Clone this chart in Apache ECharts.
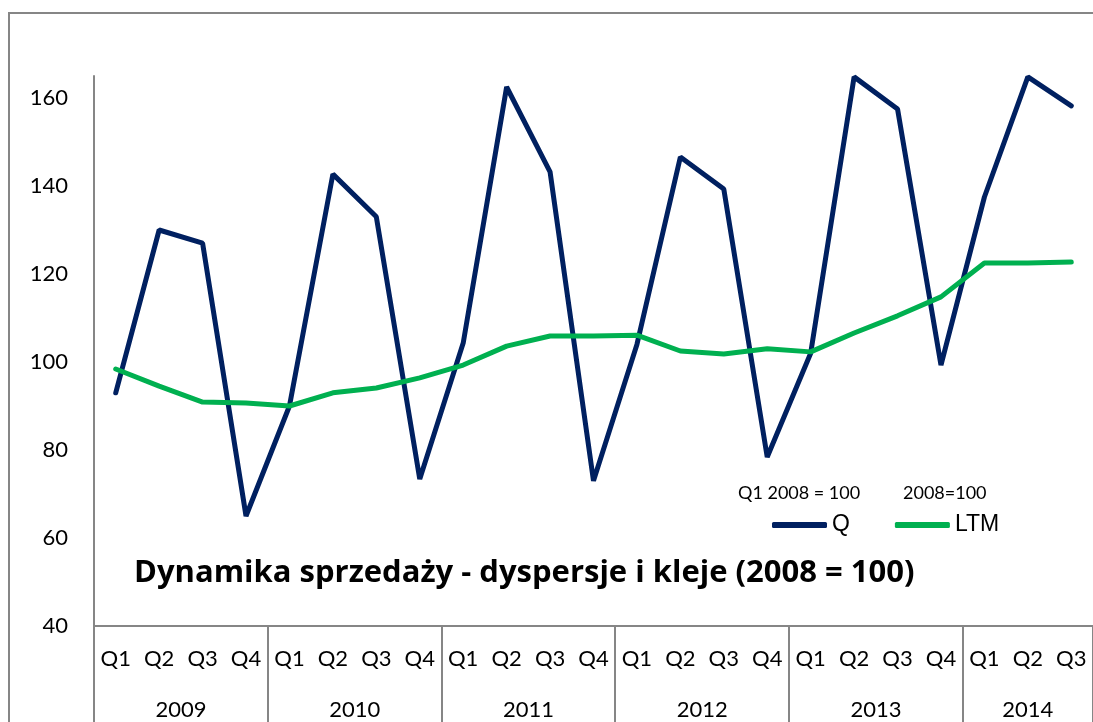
<!DOCTYPE html>
<html>
<head>
<meta charset="utf-8">
<script src="https://cdn.jsdelivr.net/npm/echarts@6/dist/echarts.min.js"></script>
<style>
  html, body { margin: 0; padding: 0; background: #fff; }
  #chart { width: 1093px; height: 722px; }
</style>
</head>
<body>
<div id="chart"></div>
<script>
// quarters and years of the two-level category axis
const quarters = ['Q1', 'Q2', 'Q3', 'Q4'];
const years = ['2009', '2010', '2011', '2012', '2013', '2014'];
const quartersPerYear = [4, 4, 4, 4, 4, 3];

// Q: quarterly index, Q1 2008 = 100
const qValues = [93, 130, 127, 65, 90, 142.7, 133, 73.4, 104.3, 162.5, 143.2, 73,
  104, 146.6, 139.3, 78.4, 102, 164.8, 157.5, 99.3, 137.5, 164.8, 158.2];
// LTM: last twelve months, 2008 = 100
const ltmValues = [98.4, 94.5, 90.9, 90.7, 90, 93, 94.1, 96.4, 99.3, 103.6, 105.9, 105.9,
  106.1, 102.5, 101.8, 103, 102.3, 106.6, 110.5, 114.8, 122.5, 122.5, 122.7];

const seriesNames = ['Q', 'LTM'];
const seriesNotes = ['Q1 2008 = 100', '2008=100'];
const chartTitle = 'Dynamika sprzedaży - dyspersje i kleje (2008 = 100)';

// build category list and year lookup
const categories = [];
const yearOfIndex = [];
const firstOfYear = [];
years.forEach(function (y, yi) {
  firstOfYear.push(categories.length);
  for (let q = 0; q < quartersPerYear[yi]; q++) {
    categories.push(quarters[q]);
    yearOfIndex.push(yi);
  }
});

const font = 'Lato';
const axisGray = '#868686';

const myChart = echarts.init(document.getElementById('chart'));

const option = {
  animation: false,
  textStyle: { fontFamily: font },
  title: [
    {
      text: chartTitle,
      left: 134, top: 558,
      padding: 0,
      textStyle: { fontFamily: 'Open Sans', fontSize: 31, fontWeight: 'bold', color: '#000' }
    },
    {
      text: seriesNotes[0],
      left: 738, top: 484,
      padding: 0,
      textStyle: { fontFamily: font, fontSize: 18, fontWeight: 'normal', color: '#000' }
    },
    {
      text: seriesNotes[1],
      left: 903, top: 484,
      padding: 0,
      textStyle: { fontFamily: font, fontSize: 18, fontWeight: 'normal', color: '#000' }
    }
  ],
  legend: {
    left: 772, top: 513,
    padding: 0,
    itemWidth: 55, itemHeight: 6,
    itemGap: 45,
    icon: 'roundRect',
    textStyle: { fontFamily: 'Liberation Sans', fontSize: 23, color: '#000', lineHeight: 24 },
    data: seriesNames
  },
  graphic: [
    {
      type: 'rect',
      shape: { x: 9, y: 13, width: 1200, height: 800 },
      style: { fill: 'none', stroke: axisGray, lineWidth: 2 },
      silent: true
    }
  ],
  grid: { left: 94, top: 76, width: 1003, height: 550 },
  xAxis: [
    {
      type: 'category',
      data: categories,
      boundaryGap: true,
      position: 'bottom',
      axisLine: { show: true, lineStyle: { color: axisGray, width: 2 } },
      axisTick: { show: false },
      axisLabel: {
        interval: 0, margin: 22,
        fontFamily: font, fontSize: 22, lineHeight: 22, color: '#000'
      },
      splitLine: { show: false }
    },
    {
      type: 'category',
      data: categories,
      boundaryGap: true,
      position: 'bottom',
      axisLine: { show: false },
      axisTick: {
        show: true,
        length: 100,
        interval: function (index) { return firstOfYear.indexOf(index) >= 0; },
        lineStyle: { color: axisGray, width: 2 }
      },
      axisLabel: {
        interval: 0, margin: 73,
        fontFamily: font, fontSize: 22, lineHeight: 22, color: '#000',
        formatter: function (value, index) {
          const yi = yearOfIndex[index];
          if (index !== firstOfYear[yi] + 1) return '';
          // full years are centred between Q2 and Q3, the short last year on its Q2
          return quartersPerYear[yi] === 4 ? '{shift|' + years[yi] + '}' : years[yi];
        },
        rich: {
          shift: {
            fontFamily: font, fontSize: 22, lineHeight: 22, color: '#000',
            padding: [0, 0, 0, 43.6]
          }
        }
      },
      splitLine: { show: false }
    }
  ],
  yAxis: {
    type: 'value',
    min: 40, max: 165, interval: 20,
    axisLine: { show: true, lineStyle: { color: axisGray, width: 2 } },
    axisTick: { show: false },
    splitLine: { show: false },
    axisLabel: {
      showMaxLabel: false,
      margin: 26,
      fontFamily: font, fontSize: 22, color: '#000'
    }
  },
  series: [
    {
      name: seriesNames[0],
      type: 'line',
      data: qValues,
      xAxisIndex: 0,
      symbol: 'none',
      color: '#002060',
      lineStyle: { width: 5, color: '#002060', cap: 'round' }
    },
    {
      name: seriesNames[1],
      type: 'line',
      data: ltmValues,
      xAxisIndex: 0,
      symbol: 'none',
      color: '#00B050',
      lineStyle: { width: 5, color: '#00B050', cap: 'round' }
    }
  ]
};

myChart.setOption(option);
</script>
</body>
</html>
